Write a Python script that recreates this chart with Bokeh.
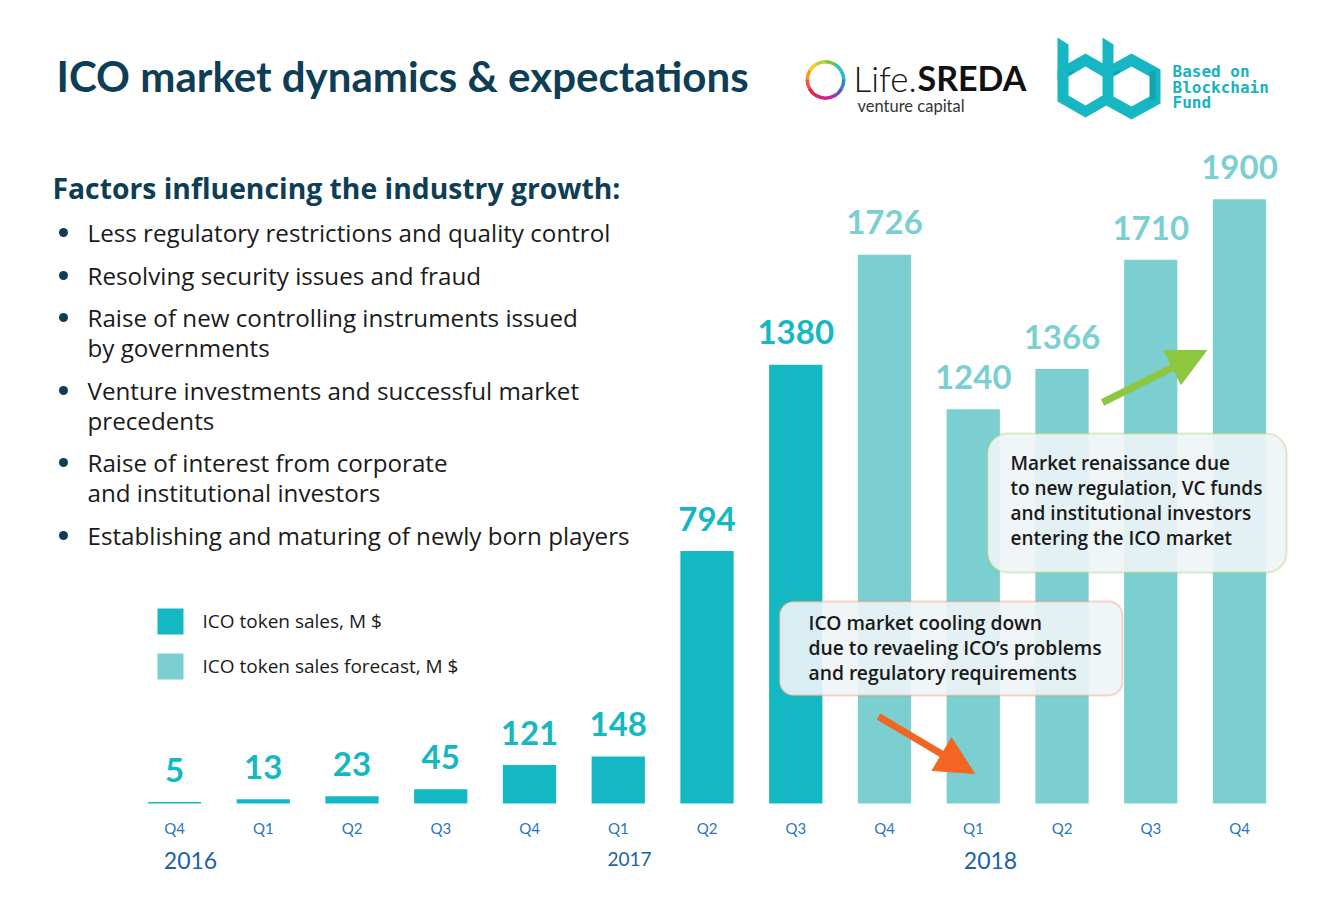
from bokeh.plotting import figure
from bokeh.models import Range1d, BoxAnnotation, Arrow, NormalHead
from bokeh.core.properties import value
from bokeh.embed import file_html
from bokeh.resources import INLINE
import math

# ---------------- data ----------------
quarters = ["Q4", "Q1", "Q2", "Q3", "Q4", "Q1", "Q2", "Q3", "Q4", "Q1", "Q2", "Q3", "Q4"]
years = ["2016", "2017", "2018"]
sales = [5, 13, 23, 45, 121, 148, 794, 1380]          # ICO token sales, M $
forecast = [1726, 1240, 1366, 1710, 1900]             # ICO token sales forecast, M $
legend_labels = ["ICO token sales,  M $", "ICO token sales forecast,  M $"]
title = "ICO market dynamics & expectations"
subtitle = "Factors influencing the industry growth:"
factors = [
    ["Less regulatory restrictions and quality control"],
    ["Resolving security issues and fraud"],
    ["Raise of new controlling instruments issued", "by governments"],
    ["Venture investments and successful market", "precedents"],
    ["Raise of interest from corporate", "and institutional investors"],
    ["Establishing and maturing of newly born players"],
]
cooling_note = ["ICO market cooling down", "due to revaeling ICO\u2019s problems", "and regulatory requirements"]
renaissance_note = ["Market renaissance due", "to new regulation, VC funds",
                    "and institutional investors", "entering the ICO market"]

# ---------------- styles ----------------
TEAL = "#14b8c2"
LIGHT = "#7bcfd1"
NAVY = "#0e3d56"
BLUE = "#2a76bd"
YEARBLUE = "#1a62a6"
TXT = "#1a1a1a"
LATO = value("Lato")
OPEN = value("Open Sans")

W, H = 1321, 889
K = 0.318            # px per M$
X0, STEP, BASE = 174.0, 88.75, 803.0
SHIFT = 0.4          # empirical baseline correction (fraction of font size)


def dx(X):
    return (X - X0) / STEP


def dy(Y):
    return (BASE - Y) / K


def ty(Y, fs):
    return dy(Y - SHIFT * fs)


p = figure(width=W, height=H, x_range=Range1d(dx(0), dx(W)), y_range=Range1d(dy(H), dy(0)),
           x_axis_type=None, y_axis_type=None, toolbar_location=None, output_backend="svg",
           min_border=0, outline_line_color=None, background_fill_color="white",
           border_fill_color="white")

# ---------------- bars ----------------
sales_x = list(range(len(sales)))
fc_x = list(range(len(sales), len(sales) + len(forecast)))
p.vbar(x=sales_x, top=sales, bottom=0, width=0.6, fill_color=TEAL, line_color=None)
p.vbar(x=fc_x, top=forecast, bottom=0, width=0.6, fill_color=LIGHT, line_color=None)

lab_off = (19 + SHIFT * 33) / K
p.text(x=sales_x, y=[v + lab_off for v in sales], text=[str(v) for v in sales], text_align="center",
       text_baseline="alphabetic", text_font=LATO, text_font_style="bold", text_font_size="33px",
       text_color=TEAL)
p.text(x=fc_x, y=[v + lab_off for v in forecast], text=[str(v) for v in forecast], text_align="center",
       text_baseline="alphabetic", text_font=LATO, text_font_style="bold", text_font_size="33px",
       text_color=LIGHT)

# quarter tick labels
p.text(x=list(range(len(quarters))), y=[ty(833, 15)] * len(quarters), text=quarters, text_align="center",
       text_baseline="alphabetic", text_font=LATO, text_font_size="15px", text_color=BLUE)
# years
p.text(x=[dx(190), dx(990)], y=[ty(869, 23)] * 2, text=[years[0], years[2]], text_align="center",
       text_baseline="alphabetic", text_font=LATO, text_font_size="23px", text_color=YEARBLUE)
p.text(x=[dx(629)], y=[ty(866, 19)], text=[years[1]], text_align="center",
       text_baseline="alphabetic", text_font=LATO, text_font_size="19px", text_color=YEARBLUE)

# ---------------- title & factors ----------------
p.text(x=[dx(56)], y=[ty(92, 42)], text=[title], text_align="left", text_baseline="alphabetic",
       text_font=LATO, text_font_style="bold", text_font_size="42px", text_color=NAVY)
p.text(x=[dx(52)], y=[ty(199, 28)], text=[subtitle], text_align="left", text_baseline="alphabetic",
       text_font=OPEN, text_font_style="bold", text_font_size="28.3px", text_color=NAVY)

base_y = [242, 285, 327, 400, 472, 545]
fx, fy, dotx, doty = [], [], [], []
for lines, b in zip(factors, base_y):
    dotx.append(dx(63))
    doty.append(dy(b - 10))
    for i, ln in enumerate(lines):
        fx.append(dx(87))
        fy.append(ty(b + 30 * i, 24))
factor_text = [ln for lines in factors for ln in lines]
p.scatter(x=dotx, y=doty, size=9, marker="circle", fill_color=NAVY, line_color=None)
p.text(x=fx, y=fy, text=factor_text, text_align="left", text_baseline="alphabetic",
       text_font=OPEN, text_font_size="24.2px", text_color=TXT)

# ---------------- legend ----------------
p.quad(left=[dx(157)] * 2, right=[dx(183)] * 2, top=[dy(608), dy(653)], bottom=[dy(634), dy(679)],
       fill_color=[TEAL, LIGHT], line_color=None)
p.text(x=[dx(202)] * 2, y=[ty(628, 19), ty(673, 19)], text=legend_labels, text_align="left",
       text_baseline="alphabetic", text_font=OPEN, text_font_size="19px", text_color=TXT)

# ---------------- annotation boxes ----------------
p.add_layout(BoxAnnotation(left=dx(779), right=dx(1122), top=dy(601), bottom=dy(695),
                           fill_color="#eef4f7", fill_alpha=0.9, line_color="#f07a45",
                           line_width=2, border_radius=14))
p.add_layout(BoxAnnotation(left=dx(987), right=dx(1286), top=dy(433), bottom=dy(572),
                           fill_color="#eef4f7", fill_alpha=0.9, line_color="#8dc63f",
                           line_width=2, border_radius=20))
NOTEFONT = value("Open Sans SemiBold, Open Sans")
t1 = p.text(x=[dx(808)] * 3, y=[ty(630 + 25 * i, 19) for i in range(3)], text=cooling_note,
            text_align="left", text_baseline="alphabetic", text_font=NOTEFONT,
            text_font_size="19.3px", text_color=TXT)
t1.level = "overlay"
t2 = p.text(x=[dx(1010)] * 4, y=[ty(470 + 25 * i, 19) for i in range(4)], text=renaissance_note,
            text_align="left", text_baseline="alphabetic", text_font=NOTEFONT,
            text_font_size="19px", text_color=TXT)
t2.level = "overlay"

# arrows
p.add_layout(Arrow(x_start=dx(878), y_start=dy(716), x_end=dx(974), y_end=dy(773),
                   line_color="#f26522", line_width=7,
                   end=NormalHead(size=38, fill_color="#f26522", line_color="#f26522")))
p.add_layout(Arrow(x_start=dx(1102), y_start=dy(402), x_end=dx(1206), y_end=dy(350),
                   line_color="#8dc63f", line_width=7,
                   end=NormalHead(size=38, fill_color="#8dc63f", line_color="#8dc63f")))

# ---------------- logos ----------------
ring_cols = ["#22b8d6", "#38c0b0", "#7cc242", "#b8d431", "#f5d21a", "#f59a23", "#f0523a",
             "#e91e4f", "#e5197a", "#c2279c", "#6c4fc0", "#2f86d3"]
n = len(ring_cols)
p.annular_wedge(x=dx(825), y=dy(79.5), inner_radius=16.5, outer_radius=20,
                inner_radius_units="screen", outer_radius_units="screen",
                start_angle=[2 * math.pi * i / n - 0.02 for i in range(n)],
                end_angle=[2 * math.pi * (i + 1) / n + 0.02 for i in range(n)],
                fill_color=ring_cols, line_color=None)
p.text(x=[dx(853)], y=[ty(91, 35)], text=["Life."], text_align="left", text_baseline="alphabetic",
       text_font=value("Lato Light, Lato"), text_font_size="35px", text_color="#111111")
p.text(x=[dx(917)], y=[ty(91, 34)], text=["SREDA"], text_align="left", text_baseline="alphabetic",
       text_font=LATO, text_font_style="bold", text_font_size="34px", text_color="#111111")
p.text(x=[dx(857)], y=[ty(112, 16)], text=["venture capital"], text_align="left", text_baseline="alphabetic",
       text_font=LATO, text_font_size="16.5px", text_color="#333333")

# BBF logo shapes
def hexagon(cx, left, right, top, bottom, h):
    return ([dx(cx), dx(right), dx(right), dx(cx), dx(left), dx(left)],
            [dy(top), dy(top + h), dy(bottom - h), dy(bottom), dy(bottom - h), dy(top + h)])

outer1 = hexagon(1085, 1057, 1113, 53, 117, 16)
outer2 = hexagon(1131, 1102, 1160, 53, 119, 16)
stem1 = ([dx(1057), dx(1068), dx(1068), dx(1057)], [dy(37), dy(44), dy(80), dy(80)])
stem2 = ([dx(1102), dx(1113), dx(1113), dx(1102)], [dy(37), dy(44), dy(80), dy(80)])
inner1 = hexagon(1085, 1068, 1102, 66, 105, 10)
inner2 = hexagon(1131, 1113, 1149, 66, 106, 10)
p.patches(xs=[outer1[0], outer2[0], stem1[0], stem2[0]], ys=[outer1[1], outer2[1], stem1[1], stem2[1]],
          fill_color="#16b7c3", line_color=None)
# subtle fold shading
shade_xs = [[dx(1068), dx(1074), dx(1074), dx(1068)], [dx(1113), dx(1119), dx(1119), dx(1113)],
            [dx(1149), dx(1155), dx(1155), dx(1149)]]
shade_ys = [[dy(72), dy(69), dy(82), dy(85)], [dy(72), dy(69), dy(82), dy(85)],
            [dy(72), dy(69), dy(100), dy(100)]]
p.patches(xs=shade_xs, ys=shade_ys, fill_color="#0f9aa6", fill_alpha=0.6, line_color=None)
p.patches(xs=[inner1[0], inner2[0]], ys=[inner1[1], inner2[1]], fill_color="white", line_color=None)
p.text(x=[dx(1172)] * 3, y=[ty(77, 16), ty(93, 16), ty(108, 16)], text=["Based on", "Blockchain", "Fund"],
       text_align="left", text_baseline="alphabetic", text_font=value("DejaVu Sans Mono"),
       text_font_style="bold", text_font_size="16px", text_color="#17b2c0")

open("out.html", "w").write(file_html(p, INLINE))
